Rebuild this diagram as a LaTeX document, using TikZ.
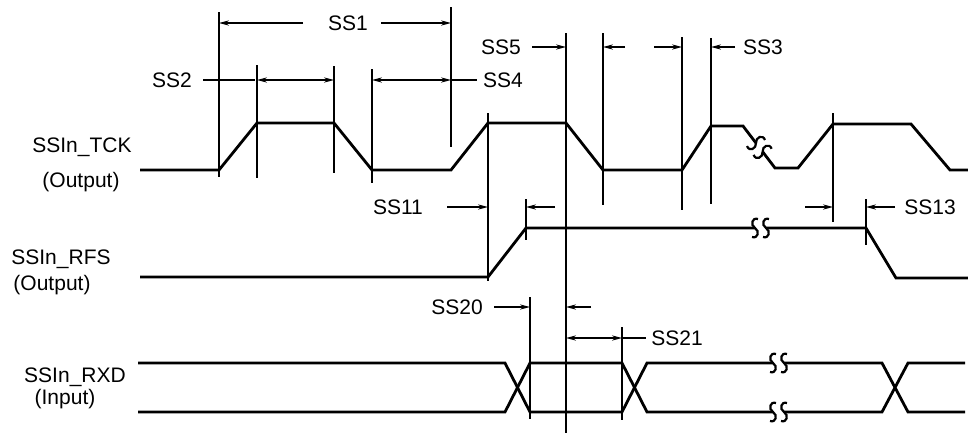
\documentclass[tikz,border=0pt]{standalone}
\usepackage{fontspec}
\setmainfont{Liberation Sans}
\usetikzlibrary{arrows.meta}
\begin{document}
\begin{tikzpicture}[x=0.5pt,y=-0.5pt,
  sig/.style={line width=1.4pt,line join=miter},
  vline/.style={line width=1pt},
  dim/.style={line width=0.75pt},
  arr/.style={dim,-{Stealth[length=5pt,width=2.6pt]}},
  darr/.style={dim,{Stealth[length=5pt,width=2.6pt]}-{Stealth[length=5pt,width=2.6pt]}},
  lbl/.style={font=\fontsize{10.5}{12}\selectfont,inner sep=0pt,anchor=base},
  brk/.pic={
    \fill[white] (-5,-3) rectangle (6,3);
    \draw[line width=1.1pt] (-2,-9) .. controls (-8,-11) and (-10,-3) .. (-5,0) .. controls (0,3) and (-2,11) .. (-8,9);
    \draw[line width=1.1pt] (9,-9) .. controls (3,-11) and (1,-3) .. (6,0) .. controls (11,3) and (9,11) .. (3,9);
  }]
\useasboundingbox (0,0) rectangle (968,435);

% labels
\node[lbl] (ltck) at (82,152) {SSIn\_TCK};
\node[lbl] (ltcko) at (81,187) {(Output)};
\node[lbl] (lrfs) at (61,264) {SSIn\_RFS};
\node[lbl] (lrfso) at (52,290) {(Output)};
\node[lbl] (lrxd) at (75,382) {SSIn\_RXD};
\node[lbl] (lrxdi) at (65,404) {(Input)};

% signals
\draw[sig] (140,170) -- (219,170) -- (257,123) -- (334,123) -- (372,170) -- (451,170)
  -- (488,123) -- (566,123) -- (603,170) -- (682,170) -- (711,126) -- (743,126)
  -- (775,168) -- (798,168) -- (833,124) -- (911,124) -- (950,170) -- (968,170);
\draw[sig] (140,277) -- (488,277) -- (526,228) -- (866,228) -- (896,278) -- (968,278);
\draw[sig] (138,363) -- (505,363) -- (530,412) -- (622,412) -- (647,363) -- (882,363) -- (908,412) -- (965,412);
\draw[sig] (138,412) -- (505,412) -- (530,363) -- (622,363) -- (647,412) -- (882,412) -- (908,363) -- (965,363);

% breaks
\pic[rotate=-53] at (759,147) {brk};
\pic at (760,228) {brk};
\pic at (778,363) {brk};
\pic at (778,412) {brk};

% vertical timing lines
\draw[vline] (219,12) -- (219,177);
\draw[vline] (257,65) -- (257,178);
\draw[vline] (334,66) -- (334,173);
\draw[vline] (372,69) -- (372,183);
\draw[vline] (451,7) -- (451,147);
\draw[vline] (488,113) -- (488,281);
\draw[vline] (566,33) -- (566,433);
\draw[vline] (603,33) -- (603,205);
\draw[vline] (682,37) -- (682,210);
\draw[vline] (711,38) -- (711,204);
\draw[vline] (833,113) -- (833,222);
\draw[vline] (526,199) -- (526,240);
\draw[vline] (866,199) -- (866,245);
\draw[vline] (530,297) -- (530,419);
\draw[vline] (622,327) -- (622,420);

% SS1
\node[lbl] (ss1) at (348,30) {SS1};
\draw[arr] (303,23) -- (219,23);
\draw[arr] (381,23) -- (451,23);
% SS2 / SS4
\node[lbl] (ss2) at (172,87) {SS2};
\draw[dim] (203,80) -- (255,80);
\draw[darr] (257,80) -- (334,80);
\draw[darr] (372,80) -- (451,80);
\draw[dim] (451,80) -- (477,80);
\node[lbl] (ss4) at (503,87) {SS4};
% SS5 / SS3
\node[lbl] (ss5) at (501,54) {SS5};
\draw[arr] (532,47) -- (566,47);
\draw[arr] (625,47) -- (603,47);
\draw[arr] (654,47) -- (682,47);
\draw[arr] (735,47) -- (711,47);
\node[lbl] (ss3) at (763,54) {SS3};
% SS11 / SS13
\node[lbl] (ss11) at (398,214) {SS11};
\draw[arr] (447,207) -- (488,207);
\draw[arr] (555,207) -- (526,207);
\draw[arr] (805,207) -- (833,207);
\draw[arr] (895,207) -- (866,207);
\node[lbl] (ss13) at (930,214) {SS13};
% SS20 / SS21
\node[lbl] (ss20) at (457,314) {SS20};
\draw[arr] (494,307) -- (530,307);
\draw[arr] (591,307) -- (566,307);
\draw[darr] (566,338) -- (622,338);
\draw[dim] (622,338) -- (646,338);
\node[lbl] (ss21) at (677,345) {SS21};
\end{tikzpicture}
\end{document}
